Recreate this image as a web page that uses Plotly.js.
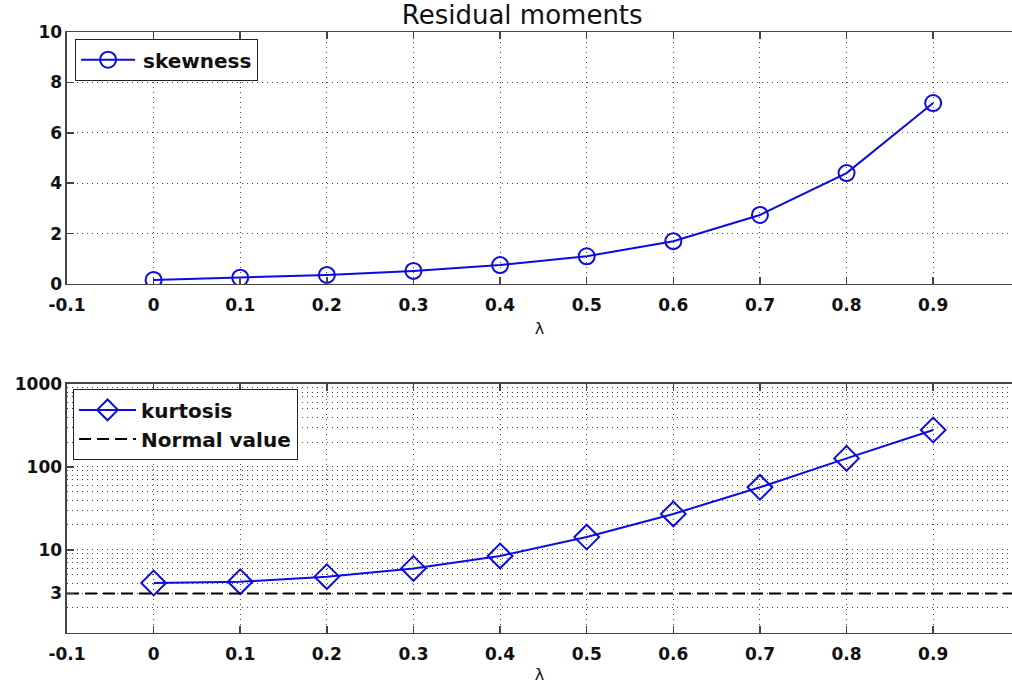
<!DOCTYPE html>
<html><head><meta charset="utf-8">
<script src="https://cdn.plot.ly/plotly-3.0.1.min.js"></script>
<style>html,body{margin:0;padding:0;background:#fff;overflow:hidden}</style>
</head><body><div id="chart" style="width:1012px;height:684px"></div>
<script>
// ---- data ----
const lambda = [0, 0.1, 0.2, 0.3, 0.4, 0.5, 0.6, 0.7, 0.8, 0.9];
const skewness = [0.16, 0.25, 0.36, 0.52, 0.75, 1.1, 1.7, 2.74, 4.4, 7.18];
const kurtosis = [4.0, 4.15, 4.77, 6.0, 8.47, 14.3, 27.2, 56.9, 127, 279];
const normalValue = 3;
const xTickVals = [-0.1, 0, 0.1, 0.2, 0.3, 0.4, 0.5, 0.6, 0.7, 0.8, 0.9];
const xTickText = ['-0.1', '0', '0.1', '0.2', '0.3', '0.4', '0.5', '0.6', '0.7', '0.8', '0.9'];
const skewTickVals = [0, 2, 4, 6, 8, 10];
const kurtTickVals = [3, 10, 100, 1000];
const kurtTickText = ['3', '10', '100', '1000'];

// ---- styling ----
const xRange = [-0.1, 0.991];
const blue = 'rgb(12,12,225)';
const tickFont = {family: 'DejaVu Sans', size: 17, color: '#111', weight: 'bold'};
const gridDots = '1px,4px';
const gridColor = 'rgba(40,40,40,0.85)';

const minorLog = [];
[1, 10, 100].forEach(d => { for (let m = 2; m <= 9; m++) minorLog.push(m * d); });

const traces = [
  {x: lambda, y: skewness, name: 'skewness', type: 'scatter', mode: 'lines+markers',
   xaxis: 'x', yaxis: 'y', legend: 'legend',
   line: {color: blue, width: 2},
   marker: {symbol: 'circle-open', size: 16, color: blue, line: {color: blue, width: 2}}},
  {x: lambda, y: kurtosis, name: 'kurtosis', type: 'scatter', mode: 'lines+markers',
   xaxis: 'x2', yaxis: 'y2', legend: 'legend2',
   line: {color: blue, width: 2},
   marker: {symbol: 'diamond-open', size: 19, color: blue, line: {color: blue, width: 2}}},
  {x: [-0.1, 1.0], y: [normalValue, normalValue], name: 'Normal value', type: 'scatter', mode: 'lines',
   xaxis: 'x2', yaxis: 'y2', legend: 'legend2',
   line: {color: '#000', width: 2, dash: '12px,6px'}}
];

const xCommon = {
  range: xRange, tickmode: 'array', tickvals: xTickVals, ticktext: xTickText,
  ticks: 'inside', ticklen: 7, tickcolor: '#444', tickwidth: 1.5,
  showline: true, linecolor: '#444', linewidth: 1.5, mirror: 'ticks',
  showgrid: true, gridcolor: gridColor, griddash: gridDots, gridwidth: 1,
  zeroline: false, tickfont: tickFont, automargin: false, ticklabelstandoff: 5,
  title: {text: 'λ', font: {family: 'DejaVu Sans', size: 16, color: '#111'}, standoff: 9}
};

const legendFont = {family: 'DejaVu Sans', size: 20, color: '#111', weight: 'bold'};

const layout = {
  width: 1012, height: 684,
  margin: {l: 0, r: 0, t: 0, b: 0},
  paper_bgcolor: '#fff', plot_bgcolor: '#fff',
  showlegend: true,
  title: {text: 'Residual moments', x: 0.516, xanchor: 'center', y: 0.978, yanchor: 'middle',
          font: {family: 'DejaVu Sans', size: 26, color: '#111'}},
  xaxis: Object.assign({}, xCommon, {domain: [0.0662, 1], anchor: 'y'}),
  yaxis: {
    domain: [0.5848, 0.9532], anchor: 'x', range: [0, 10],
    tickmode: 'array', tickvals: skewTickVals,
    ticks: 'inside', ticklen: 7, tickcolor: '#444', tickwidth: 1.5,
    showline: true, linecolor: '#444', linewidth: 1.5, mirror: false,
    showgrid: true, gridcolor: gridColor, griddash: gridDots, gridwidth: 1,
    zeroline: false, tickfont: tickFont, automargin: false
  },
  xaxis2: Object.assign({}, xCommon, {domain: [0.0662, 1], anchor: 'y2'}),
  yaxis2: {
    domain: [0.0746, 0.4386], anchor: 'x2', type: 'log', range: [0, 3],
    tickmode: 'array', tickvals: kurtTickVals, ticktext: kurtTickText,
    ticks: 'inside', ticklen: 7, tickcolor: '#444', tickwidth: 1.5,
    showline: true, linecolor: '#444', linewidth: 1.5, mirror: false,
    showgrid: true, gridcolor: gridColor, griddash: gridDots, gridwidth: 1,
    minor: {tickmode: 'array', tickvals: minorLog, showgrid: true, gridcolor: gridColor,
            griddash: gridDots, gridwidth: 1, ticks: ''},
    zeroline: false, tickfont: tickFont, automargin: false
  },
  legend: {x: 0.074, y: 0.943, xanchor: 'left', yanchor: 'top', xref: 'paper', yref: 'paper',
           bgcolor: '#fff', bordercolor: '#222', borderwidth: 1.2, itemwidth: 57,
           tracegroupgap: 0, font: legendFont},
  legend2: {x: 0.072, y: 0.431, xanchor: 'left', yanchor: 'top', xref: 'paper', yref: 'paper',
           bgcolor: '#fff', bordercolor: '#222', borderwidth: 1.2, itemwidth: 57,
           tracegroupgap: 0, font: legendFont}
};

Plotly.newPlot('chart', traces, layout, {displayModeBar: false, staticPlot: true}).then(gd => {
  // lengthen the legend sample lines to match the reference's longer keys
  gd.querySelectorAll('.legend .legendlines path').forEach(p => p.setAttribute('d', 'M5,0h54'));
  gd.querySelectorAll('.legend .legendpoints path.scatterpts').forEach(p =>
    p.setAttribute('transform', 'translate(32,0)'));
});
</script>
</body></html>
